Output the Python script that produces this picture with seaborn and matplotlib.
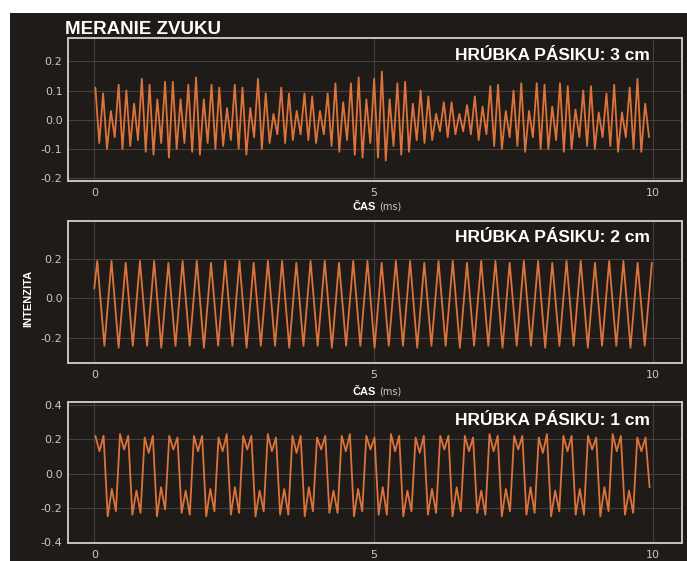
import numpy as np
import pandas as pd
import seaborn as sns
import matplotlib.pyplot as plt
from matplotlib.patches import Rectangle

# values (peak, then the trough after it)
peaks_3cm = [0.11, 0.09, 0.03, 0.12, 0.10, 0.055, 0.14, 0.12, 0.07, 0.13, 0.13, 0.07,
             0.12, 0.145, 0.07, 0.12, 0.11, 0.04, 0.12, 0.11, 0.04, 0.14, 0.09, 0.02,
             0.11, 0.09, 0.03, 0.09, 0.08, 0.03, 0.09, 0.125, 0.06, 0.125, 0.145, 0.07,
             0.14, 0.165, 0.07, 0.125, 0.13, 0.055, 0.10, 0.08, 0.02, 0.06, 0.06, 0.02,
             0.05, 0.08, 0.045, 0.115, 0.12, 0.03, 0.10, 0.125, 0.03, 0.125, 0.12, 0.045,
             0.125, 0.115, 0.035, 0.10, 0.115, 0.025, 0.09, 0.12, 0.025, 0.11, 0.14, 0.055]
troughs_3cm = [-0.08, -0.10, -0.06, -0.10, -0.09, -0.07, -0.11, -0.12, -0.08, -0.13, -0.10, -0.08,
               -0.11, -0.12, -0.08, -0.10, -0.09, -0.07, -0.10, -0.12, -0.06, -0.10, -0.08, -0.05,
               -0.08, -0.07, -0.05, -0.07, -0.08, -0.05, -0.09, -0.11, -0.07, -0.12, -0.13, -0.08,
               -0.13, -0.14, -0.09, -0.12, -0.11, -0.07, -0.08, -0.07, -0.04, -0.06, -0.05, -0.04,
               -0.05, -0.07, -0.05, -0.09, -0.10, -0.06, -0.09, -0.11, -0.06, -0.10, -0.10, -0.07,
               -0.11, -0.10, -0.06, -0.09, -0.10, -0.06, -0.09, -0.11, -0.06, -0.10, -0.11, -0.06]
t_3cm_range = (0.02, 9.93)

start_2cm = 0.05
peaks_2cm = [0.19, 0.19, 0.18, 0.19, 0.19, 0.18, 0.19, 0.19, 0.18, 0.19,
             0.19, 0.18, 0.19, 0.19, 0.18, 0.19, 0.19, 0.18, 0.19, 0.19,
             0.18, 0.19, 0.19, 0.18, 0.19, 0.19, 0.18, 0.19, 0.19, 0.18,
             0.19, 0.19, 0.18, 0.19, 0.19, 0.18, 0.19, 0.19, 0.18, 0.18]
troughs_2cm = [-0.24, -0.25, -0.24, -0.24, -0.25, -0.24, -0.24, -0.25, -0.24, -0.24,
               -0.25, -0.24, -0.24, -0.25, -0.24, -0.24, -0.25, -0.24, -0.24, -0.25,
               -0.24, -0.24, -0.25, -0.24, -0.24, -0.25, -0.24, -0.24, -0.25, -0.24,
               -0.24, -0.25, -0.24, -0.24, -0.25, -0.24, -0.24, -0.25, -0.24]
t_2cm_range = (0.054, 9.98)

# one row per cycle: peak, dip, peak, trough, bump, trough
cycles_1cm = [
    [0.22, 0.13, 0.22, -0.25, -0.09, -0.22],
    [0.23, 0.14, 0.22, -0.24, -0.10, -0.23],
    [0.21, 0.12, 0.22, -0.25, -0.08, -0.21],
    [0.22, 0.14, 0.21, -0.23, -0.10, -0.24],
    [0.22, 0.13, 0.22, -0.25, -0.09, -0.22],
    [0.21, 0.13, 0.23, -0.24, -0.08, -0.23],
    [0.22, 0.14, 0.22, -0.25, -0.10, -0.22],
    [0.23, 0.13, 0.21, -0.24, -0.09, -0.24],
    [0.22, 0.12, 0.22, -0.25, -0.08, -0.22],
    [0.21, 0.14, 0.22, -0.23, -0.10, -0.23],
    [0.22, 0.13, 0.23, -0.25, -0.09, -0.22],
    [0.22, 0.14, 0.21, -0.24, -0.08, -0.24],
    [0.23, 0.13, 0.22, -0.25, -0.10, -0.22],
    [0.21, 0.12, 0.22, -0.24, -0.09, -0.23],
    [0.22, 0.14, 0.22, -0.25, -0.08, -0.22],
    [0.22, 0.13, 0.21, -0.23, -0.10, -0.24],
    [0.23, 0.13, 0.22, -0.25, -0.09, -0.22],
    [0.22, 0.14, 0.22, -0.24, -0.08, -0.23],
    [0.21, 0.12, 0.23, -0.25, -0.10, -0.22],
    [0.22, 0.13, 0.22, -0.24, -0.09, -0.24],
    [0.22, 0.14, 0.21, -0.25, -0.08, -0.22],
    [0.23, 0.13, 0.22, -0.24, -0.10, -0.23],
]
tail_1cm = [0.21, 0.13, 0.21, -0.08]
t_1cm_range = (0.02, 9.94)

panel_labels = ["HRÚBKA PÁSIKU: 3 cm", "HRÚBKA PÁSIKU: 2 cm", "HRÚBKA PÁSIKU: 1 cm"]
y_ticks = [[-0.2, -0.1, 0.0, 0.1, 0.2], [-0.2, 0.0, 0.2], [-0.4, -0.2, 0.0, 0.2, 0.4]]
y_limits = [(-0.21, 0.28), (-0.327, 0.392), (-0.405, 0.417)]
x_ticks = [0, 5, 10]

BG = "#1f1b19"
LINE = "#dc733a"

sns.set_theme(style="dark", rc={
    "axes.facecolor": BG,
    "axes.edgecolor": "#c4c4c4",
    "axes.linewidth": 1.4,
    "grid.color": "#45403d",
    "grid.linewidth": 0.8,
    "axes.grid": True,
    "axes.unicode_minus": False,
    "xtick.color": "#c8c8c8",
    "ytick.color": "#c8c8c8",
})
plt.rcParams["font.family"] = ["DejaVu Sans"]

# assemble the traces
i_3cm = np.column_stack([peaks_3cm, troughs_3cm]).ravel()
t_3cm = np.linspace(*t_3cm_range, len(i_3cm))

i_2cm = np.empty(len(peaks_2cm) + len(troughs_2cm))
i_2cm[0::2] = peaks_2cm
i_2cm[1::2] = troughs_2cm
t_2cm = np.concatenate([[0.0], np.linspace(*t_2cm_range, len(i_2cm))])
i_2cm = np.concatenate([[start_2cm], i_2cm])

i_1cm = np.concatenate([np.ravel(cycles_1cm), tail_1cm])
t_1cm = np.linspace(*t_1cm_range, len(i_1cm))

traces = [pd.DataFrame({"cas": t, "intenzita": v})
          for t, v in [(t_3cm, i_3cm), (t_2cm, i_2cm), (t_1cm, i_1cm)]]

fig = plt.figure(figsize=(6.87, 5.61), dpi=100)
fig.patch.set_facecolor("white")
fig.patches.append(Rectangle((10 / 687, 0), 1, 1 - 13 / 561, transform=fig.transFigure,
                             facecolor=BG, edgecolor="none", zorder=-10))

bottoms = [1 - 181 / 561, 1 - 363 / 561, 1 - 543 / 561]
heights = [143 / 561, 142 / 561, 141 / 561]
label_y = [0.88, 0.887, 0.872]

for n, df in enumerate(traces):
    ax = fig.add_axes([68 / 687, bottoms[n], 614 / 687, heights[n]])
    sns.lineplot(data=df, x="cas", y="intenzita", ax=ax, color=LINE,
                 linewidth=1.3, estimator=None)
    ax.set_xlim(-0.47, 10.52)
    ax.set_ylim(*y_limits[n])
    ax.set_xticks(x_ticks)
    ax.set_xticklabels([str(v) for v in x_ticks])
    ax.set_yticks(y_ticks[n])
    ax.set_yticklabels([f"{v:.1f}" for v in y_ticks[n]])
    ax.tick_params(axis="both", length=0, labelsize=8)
    ax.tick_params(axis="x", pad=5)
    ax.tick_params(axis="y", pad=4)
    ax.set_xlabel("")
    ax.set_ylabel("")
    ax.text(0.948, label_y[n], panel_labels[n], transform=ax.transAxes,
            ha="right", va="center", color="white", fontsize=12.5,
            fontweight="bold", family="Liberation Sans")

# axis captions
for y_px in [207, 392]:
    fig.text(376 / 687, 1 - y_px / 561, "ČAS", ha="right", va="center", color="white",
             fontsize=8, fontweight="bold", family="Liberation Sans")
    fig.text(379 / 687, 1 - y_px / 561, "(ms)", ha="left", va="center", color="#c8c8c8",
             fontsize=7)

fig.text(28 / 687, 1 - 298 / 561, "INTENZITA", rotation=90, ha="center", va="center",
         color="white", fontsize=8, fontweight="bold", family="Liberation Sans")
fig.text(65 / 687, 1 - 29 / 561, "MERANIE ZVUKU", ha="left", va="center", color="white",
         fontsize=13.5, fontweight="bold", family="Liberation Sans")

fig.savefig("out.png", dpi=100, facecolor=fig.get_facecolor())
